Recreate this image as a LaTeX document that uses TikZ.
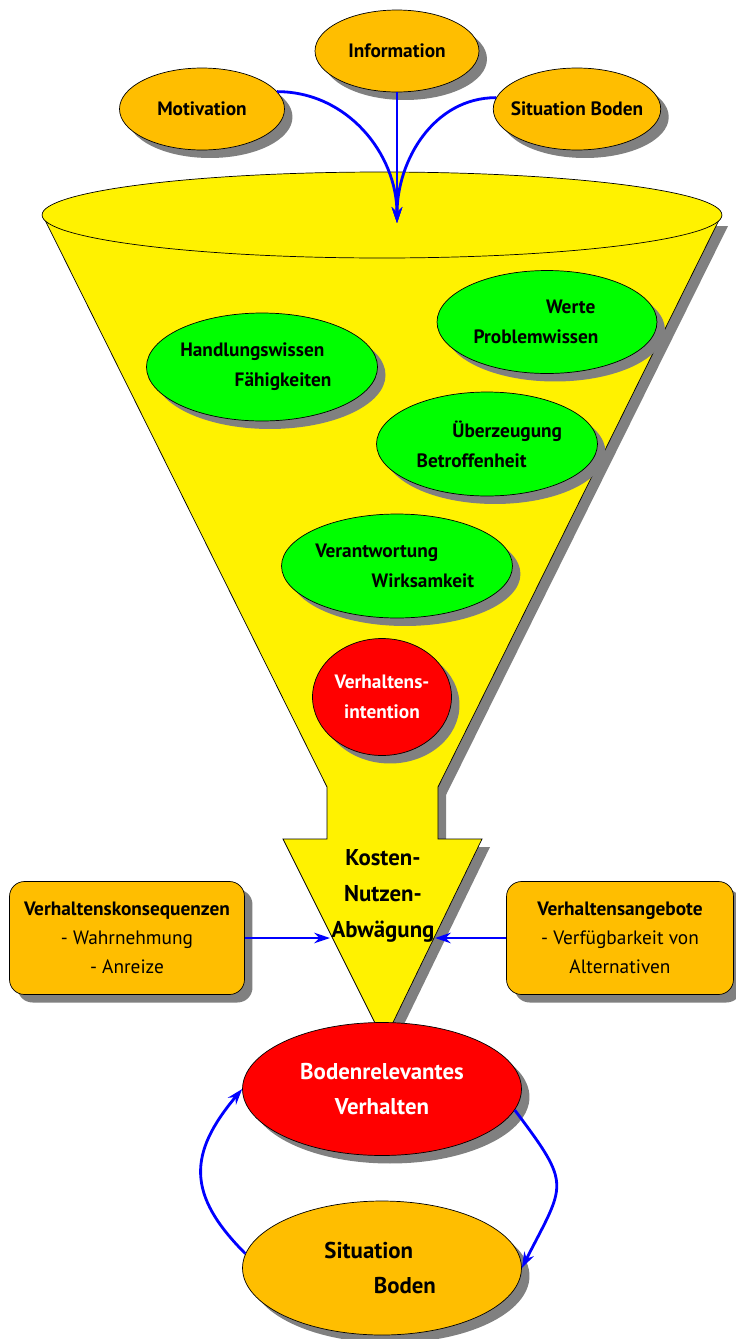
\documentclass[tikz,border=0pt]{standalone}
\usepackage{fontspec}
\setmainfont{PT Sans}
\usetikzlibrary{shapes.geometric,shadows,arrows.meta}
\definecolor{orangegelb}{RGB}{255,190,0}

\begin{document}
\begin{tikzpicture}[x=0.02cm,y=-0.02cm,
	schatten/.style={drop shadow={shadow xshift=1.6mm,shadow yshift=-1.6mm,fill=gray,opacity=1}},
	blase/.style={ellipse,draw,thin,inner sep=0pt,align=center,font=\fontsize{11}{17}\selectfont\bfseries,schatten},
	kasten/.style={rectangle,rounded corners=0.3cm,draw,thin,fill=orangegelb,inner sep=0pt,align=center,minimum height=2.26cm,font=\fontsize{11}{16.4}\selectfont,schatten},
	pfeil/.style={draw=blue,line width=1.6pt,-{Stealth[length=9pt,width=6pt,inset=3pt]}}]
	\useasboundingbox (0,0) rectangle (735,1339);
	% Trichter
	\filldraw[fill=yellow,schatten] (44,218) -- (327,787) -- (327,839) -- (283,839) -- (384,1041) -- (482,839) -- (438,839) -- (438,787) -- (720,218) -- cycle;
	\node[ellipse,draw,thin,fill=yellow,minimum width=13.6cm,minimum height=1.72cm] (trichter) at (382,215) {};
	% Einfluesse oben
	\node[blase,fill=orangegelb,minimum width=3.28cm,minimum height=1.64cm] (inf) at (397,51) {Information};
	\node[blase,fill=orangegelb,minimum width=3.3cm,minimum height=1.64cm] (mot) at (202,109) {Motivation};
	\node[blase,fill=orangegelb,inner xsep=-4pt,minimum width=3.3cm,minimum height=1.64cm] (sit) at (577,109) {Situation Boden};
	\coordinate (einlauf) at (397,223);
	\draw[pfeil] (inf) -- (einlauf);
	\draw[pfeil] (mot.13) to[out=0,in=90] (einlauf);
	\draw[pfeil] (sit.172) to[out=180,in=90] (einlauf);
	% im Trichter
	\node[blase,fill=green,minimum width=4.32cm,minimum height=2.16cm] (hw) at (262,367) {Handlungswissen\kern11pt\\\hspace*{24pt}Fähigkeiten};
	\node[blase,fill=green,minimum width=4.4cm,minimum height=2.06cm] (werte) at (547,322) {\hspace*{27pt}Werte\\Problemwissen\kern12.5pt};
	\node[blase,fill=green,minimum width=4.42cm,minimum height=2.08cm] (ueb) at (487,444) {\hspace*{23pt}Überzeugung\\Betroffenheit\kern17.5pt};
	\node[blase,fill=green,minimum width=4.48cm,minimum height=2.08cm] (verantw) at (397,566) {Verantwortung\kern23pt\\\hspace*{29.5pt}Wirksamkeit};
	\node[blase,fill=red,text=white,minimum width=2.78cm,minimum height=2.34cm] (intention) at (382,697) {Verhaltens-\\intention};
	\node[font=\fontsize{13}{20.4}\selectfont\bfseries,align=center] (abwaegung) at (383,896) {Kosten-\\Nutzen-\\Abwägung};
	% Kaesten
	\node[kasten,minimum width=4.7cm] (konseq) at (127,938) {\textbf{Verhaltenskonsequenzen}\\- Wahrnehmung\\- Anreize};
	\node[kasten,minimum width=4.54cm] (angebote) at (620,938) {\textbf{Verhaltensangebote}\\- Verfügbarkeit von\\Alternativen};
	\coordinate (kn-l) at (330,938);
	\coordinate (kn-r) at (435,938);
	\draw[pfeil] (konseq) -- (kn-l);
	\draw[pfeil] (angebote) -- (kn-r);
	% Kreislauf unten
	\node[blase,fill=red,text=white,font=\fontsize{13}{20.4}\selectfont\bfseries,minimum width=5.58cm,minimum height=2.66cm] (verhalten) at (382,1089) {Bodenrelevantes\\Verhalten};
	\node[blase,fill=orangegelb,font=\fontsize{13}{20}\selectfont\bfseries,minimum width=5.58cm,minimum height=2.68cm] (boden) at (382,1268) {Situation\kern15pt\\\hspace*{26pt}Boden};
	\draw[pfeil] (boden.174) to[out=135,in=230,looseness=1.3] (verhalten.west);
	\draw[pfeil] (verhalten.-9) to[out=-53,in=63,looseness=1.55] (boden.east);
\end{tikzpicture}
\end{document}
